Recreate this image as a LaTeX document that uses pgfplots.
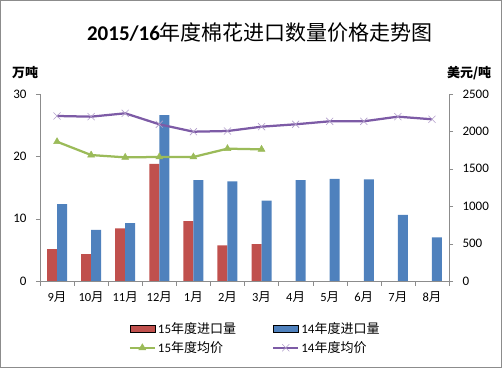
\documentclass[border=0pt]{standalone}
\usepackage{fontspec}
\setmainfont{Carlito}
\newfontfamily\cjk{Noto Sans CJK SC}
\usepackage{pgfplots}
\pgfplotsset{compat=1.18}
\definecolor{cred}{HTML}{C0504D}
\definecolor{cblue}{HTML}{4F81BD}
\definecolor{cgreen}{HTML}{9BBB59}
\definecolor{cpurple}{HTML}{7D5BA6}
\definecolor{axgray}{HTML}{8C8C8C}
\newcommand\yue{{\cjk 月}}
\pgfplotsset{
  common/.style={
    at={(40bp,87bp)}, anchor=south west, scale only axis,
    width=409bp, height=187bp,
    xmin=-0.5, xmax=11.5,
    axis line style={draw=axgray}, tick style={draw=axgray},
    tick align=outside, major tick length=4bp, minor tick length=5bp,
    /pgf/number format/assume math mode=true,
    /pgf/number format/1000 sep={},
    tick label style={font=\fontsize{13bp}{15bp}\selectfont},
  },
  barleg/.style={legend image code/.code={\fill[##1] (0bp,-3.5bp) rectangle (25bp,3.5bp);}},
}
\begin{document}
\begin{tikzpicture}
\useasboundingbox (0,0) rectangle (502bp,368bp);
\draw[axgray, line width=0.8bp] (0.6bp,0.6bp) rectangle (501.4bp,367.4bp);
\begin{axis}[common,
  ymin=0, ymax=30, ytick={0,10,20,30},
  axis y line*=left, axis x line*=bottom,
  ybar=0pt, bar width=10bp,
  xtick={0,...,11},
  xticklabels={9\yue,10\yue,11\yue,12\yue,1\yue,2\yue,3\yue,4\yue,5\yue,6\yue,7\yue,8\yue},
  major x tick style={draw=none},
  minor xtick={-0.5,0.5,1.5,2.5,3.5,4.5,5.5,6.5,7.5,8.5,9.5,10.5,11.5},
  xticklabel style={font=\fontsize{12.5bp}{15bp}\selectfont, yshift=-3bp},
  yticklabel style={xshift=-6bp},
]
\addplot[fill=cred, draw=none] coordinates {(0,5.1) (1,4.3) (2,8.45) (3,18.8) (4,9.6) (5,5.7) (6,5.9)};
\addplot[fill=cblue, draw=none] coordinates {(0,12.35) (1,8.2) (2,9.3) (3,26.6) (4,16.2) (5,16.0) (6,12.9) (7,16.2) (8,16.4) (9,16.3) (10,10.6) (11,7.0)};
\end{axis}
\begin{axis}[common,
  ymin=0, ymax=2500, ytick={0,500,1000,1500,2000,2500},
  axis y line*=right, axis x line=none,
  yticklabel style={xshift=6bp},
  legend columns=2,
  legend style={at={(0.526,-0.305)}, anchor=center, draw=none, fill=none,
    font=\fontsize{13bp}{15bp}\selectfont, row sep=3bp,
    /tikz/every even column/.append style={column sep=34bp}},
  legend cell align=left,
  legend image code/.code={\draw[mark repeat=2,mark phase=2,#1] plot coordinates {(0bp,0bp)(12.5bp,0bp)(25bp,0bp)};},
]
\addlegendimage{barleg, fill=cred}
\addlegendentry{15{\cjk 年度进口量}}
\addlegendimage{barleg, fill=cblue}
\addlegendentry{14{\cjk 年度进口量}}
\addplot[cgreen, line width=2.25bp, mark=triangle*, mark size=4bp, mark options={line width=0.5bp}] coordinates {(0,1862) (1,1684) (2,1653) (3,1658) (4,1658) (5,1769) (6,1760)};
\addlegendentry{15{\cjk 年度均价}}
\addplot[cpurple, line width=2.25bp, mark=x, mark size=5bp, mark options={line width=0.6bp, draw=cpurple!60}] coordinates {(0,2206) (1,2197) (2,2242) (3,2095) (4,1996) (5,2005) (6,2063) (7,2095) (8,2135) (9,2135) (10,2197) (11,2162)};
\addlegendentry{14{\cjk 年度均价}}
\end{axis}
\node at (260bp,335bp) {\fontsize{21bp}{25bp}\selectfont\bfseries 2015/16{\cjk\mdseries 年度棉花进口数量价格走势图}};
\node at (25bp,295bp) {\fontsize{13bp}{15bp}\selectfont\cjk\bfseries 万吨};
\node at (469bp,295bp) {\fontsize{13bp}{15bp}\selectfont\cjk\bfseries 美元/吨};
\end{tikzpicture}
\end{document}
